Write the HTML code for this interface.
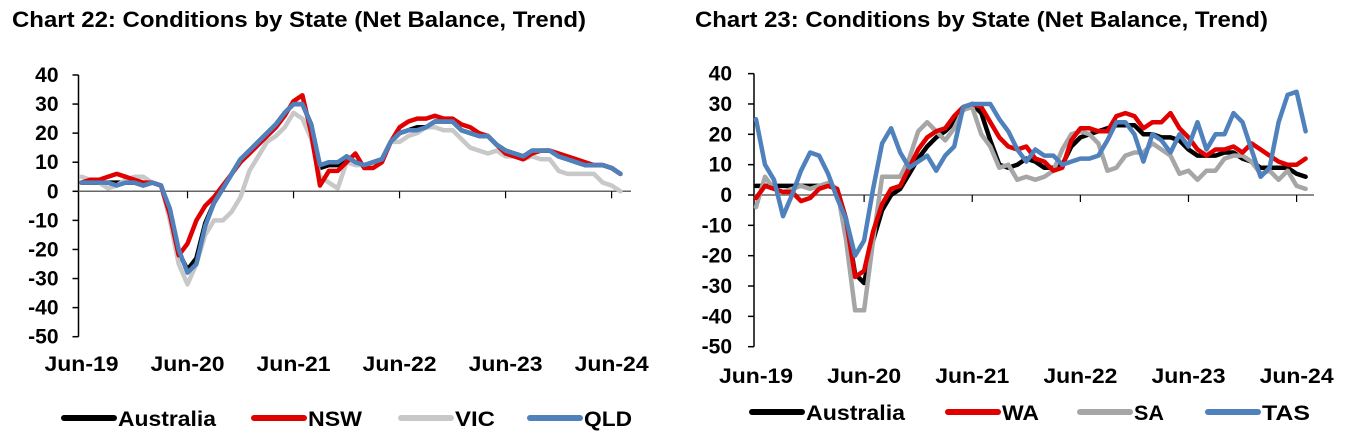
<!DOCTYPE html>
<html><head><meta charset="utf-8">
<style>
html,body{margin:0;padding:0;background:#fff;}
svg{display:block;}
text{font-family:"Liberation Sans",Arial,sans-serif;font-weight:bold;fill:#000;}
</style></head>
<body>
<svg id="svg" width="1348" height="436" viewBox="0 0 1348 436" xmlns="http://www.w3.org/2000/svg">
<text x="12" y="27" font-size="22" textLength="574" lengthAdjust="spacingAndGlyphs">Chart 22: Conditions by State (Net Balance, Trend)</text>
<text x="695" y="27" font-size="22" textLength="573" lengthAdjust="spacingAndGlyphs">Chart 23: Conditions by State (Net Balance, Trend)</text>
<g id="c1"></g>
<g id="c2"></g>
</svg>
<script>
const yTicks=[40,30,20,10,0,-10,-20,-30,-40,-50];
const xTickLabels=["Jun-19","Jun-20","Jun-21","Jun-22","Jun-23","Jun-24"];
// Chart 22 series (monthly Jun-19 .. Jul-24)
const c1Australia=[3,3,3,3,3,3,3,2,3,2,-7,-21,-27,-23,-11,-4,1,6,11,14,17,20,23,27,30,30,23,8,9,9,12,10,9,10,11,17,20,21,22,22,24,24,24,21,20,19,19,16,14,13,12,14,14,14,12,11,10,9,9,9,8,6];
const c1NSW=[3,4,4,5,6,5,4,3,3,2,-8,-22,-18,-10,-5,-2,2,6,10,13,16,19,22,26,31,33,20,2,7,7,10,13,8,8,10,17,22,24,25,25,26,25,25,23,22,20,19,16,13,12,11,13,14,14,13,12,11,10,9,9,8,6];
const c1VIC=[5,4,3,1,2,4,5,5,3,2,-10,-25,-32,-25,-15,-10,-10,-7,-2,7,12,17,19,22,27,25,18,5,3,1,10,9,9,10,10,17,17,19,20,22,22,21,21,18,15,14,13,14,12,12,11,12,11,11,7,6,6,6,6,3,2,0];
const c1QLD=[3,3,3,3,2,3,3,2,3,2,-6,-20,-28,-25,-12,-4,1,6,11,14,17,20,23,27,30,30,23,9,10,10,12,10,9,10,11,17,20,21,21,22,24,24,24,21,20,19,19,16,14,13,12,14,14,14,12,11,10,9,9,9,8,6];
// Chart 23 series
const c2Australia=[3,3,3,3,3,3,3,3,3,2,-8,-26,-29,-15,-5,0,2,7,12,16,19,21,24,28,30,27,18,10,9,10,12,11,9,9,10,16,19,20,21,22,23,23,23,20,20,19,19,18,15,13,13,13,14,14,12,11,9,9,9,9,7,6];
const c2WA=[-1,3,2,1,1,-2,-1,2,3,2,-8,-27,-25,-12,-3,2,3,9,15,19,21,22,26,29,30,29,24,19,16,15,16,12,11,8,9,18,22,22,21,21,26,27,26,22,24,24,27,22,19,15,13,15,15,16,14,17,15,13,11,10,10,12];
const c2SA=[-4,6,2,1,2,3,2,3,4,2,-15,-38,-38,-15,6,6,6,12,21,24,21,18,22,28,29,20,16,9,10,5,6,5,6,8,15,20,21,20,17,8,9,13,14,14,17,15,13,7,8,5,8,8,12,13,13,11,7,8,5,8,3,2];
const c2TAS=[25,10,5,-7,0,8,14,13,7,-1,-8,-20,-15,2,17,22,14,9,11,13,8,13,16,29,30,30,30,25,21,15,11,15,13,13,10,11,12,12,13,18,24,24,20,11,20,18,14,20,16,24,15,20,20,27,24,15,6,9,24,33,34,21];

const NS="http://www.w3.org/2000/svg";
function mk(parent,tag,attrs){const e=document.createElementNS(NS,tag);for(const k in attrs)e.setAttribute(k,attrs[k]);parent.appendChild(e);return e;}

function drawChart(g,cfg,series,prefix){
  const yS=v=>cfg.y0+(cfg.ym50-cfg.y0)*(v/-50);
  const xS=i=>cfg.x0+i*cfg.dx;
  let a=mk(g,'line',{x1:cfg.ax,y1:yS(40),x2:cfg.ax,y2:yS(-50),stroke:'#000','stroke-width':1.5});
  
  
  yTicks.forEach(v=>{
    const t=mk(g,'line',{x1:cfg.ax-6,y1:yS(v),x2:cfg.ax,y2:yS(v),stroke:'#000','stroke-width':1.5});
    
    
    const l=mk(g,'text',{x:cfg.ax-cfg.lblOff,y:yS(v)+7,'text-anchor':'end','font-size':21});
    l.textContent=v;
    
    
  });
  const xa=mk(g,'line',{x1:cfg.ax,y1:yS(0),x2:cfg.axEnd,y2:yS(0),stroke:'#666','stroke-width':1.5});
  
  
  xTickLabels.forEach((lab,k)=>{
    const x=xS(k*12);
    if(k>0){const t=mk(g,'line',{x1:x,y1:yS(0),x2:x,y2:yS(0)+7,stroke:'#000','stroke-width':1.2});
      
      }
    const l=mk(g,'text',{x:x,y:cfg.xlY,'text-anchor':'middle','font-size':21,textLength:74,lengthAdjust:'spacingAndGlyphs'});
    l.textContent=lab;
    
    
  });
  series.forEach(s=>{
    const pts=s.data.map((v,i)=>xS(i).toFixed(1)+','+yS(v).toFixed(1)).join(' ');
    const p=mk(g,'polyline',{points:pts,fill:'none',stroke:s.color,'stroke-width':4.5,'stroke-linejoin':'round','stroke-linecap':'round'});
    
    
  });
  series.forEach(s=>{
    const ln=mk(g,'line',{x1:s.lx,y1:cfg.legY,x2:s.lx+50,y2:cfg.legY,stroke:s.color,'stroke-width':6,'stroke-linecap':'round'});
    
    
    const t=mk(g,'text',{x:s.lx+54,y:cfg.legY+8,'font-size':21,textLength:s.tw,lengthAdjust:'spacingAndGlyphs'});
    t.textContent=s.name;
    
    
  });
}

drawChart(document.getElementById('c1'),
  {ax:78.5,axEnd:631,y0:191.3,ym50:336.7,x0:81.5,dx:8.835,xlY:371,legY:418,lblOff:20},
  [{name:'Australia',data:c1Australia,color:'#000',lx:64,tw:98},
   {name:'VIC',data:c1VIC,color:'#c8c8c8',lx:401,tw:40},
   {name:'NSW',data:c1NSW,color:'#e00000',lx:254,tw:54},
   {name:'QLD',data:c1QLD,color:'#4f81bd',lx:530,tw:48}],'c22');

drawChart(document.getElementById('c2'),
  {ax:754,axEnd:1314,y0:195,ym50:346.7,x0:756,dx:9.01,xlY:383,legY:412,lblOff:22},
  [{name:'Australia',data:c2Australia,color:'#000',lx:752,tw:99},
   {name:'SA',data:c2SA,color:'#a6a6a6',lx:1080,tw:30},
   {name:'WA',data:c2WA,color:'#e00000',lx:948,tw:37},
   {name:'TAS',data:c2TAS,color:'#4f81bd',lx:1208,tw:48}],'c23');
</script>
</body></html>
